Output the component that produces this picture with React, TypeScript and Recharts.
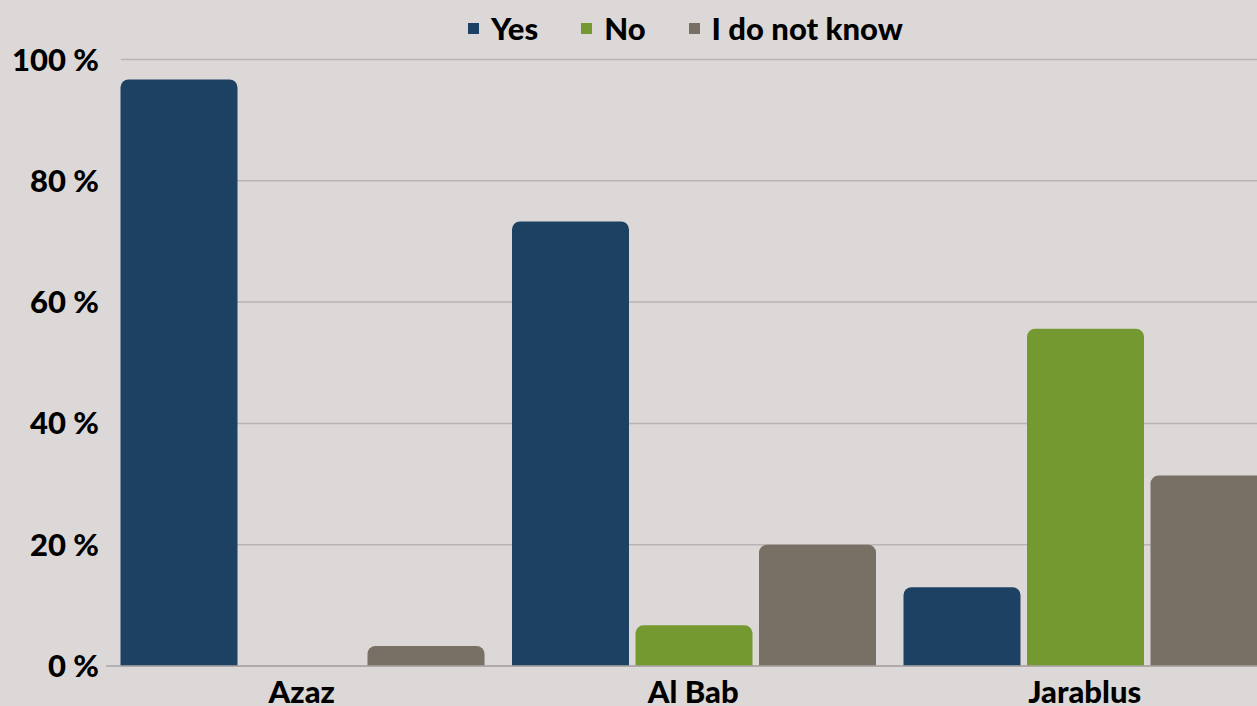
import React from 'react';
import { BarChart, Bar, XAxis, YAxis, CartesianGrid, Legend } from 'recharts';

const categories = ['Azaz', 'Al Bab', 'Jarablus'];
const yesValues = [96.7, 73.3, 13.0];
const noValues = [0, 6.7, 55.6];
const idkValues = [3.3, 20.0, 31.4];
const yTicks = [0, 20, 40, 60, 80, 100];

const seriesKeys = ['yes', 'no', 'idk'];
const seriesNames = ['Yes', 'No', 'I do not know'];
const seriesColors = ['#1C4162', '#759931', '#786F65'];

const data = categories.map((c, i) => ({
  name: c,
  yes: yesValues[i],
  no: noValues[i],
  idk: idkValues[i],
}));

const FONT = 'Lato, "Open Sans", sans-serif';
const WEIGHT = 900;
const BG = '#DCD8D7';
const GRID = '#B9B4B3';

const LegendContent = () => (
  <div style={{ display: 'flex', alignItems: 'center', height: 40, fontFamily: FONT, fontWeight: WEIGHT, fontSize: 31, color: '#000' }}>
    {seriesNames.map((n, i) => (
      <div key={n} style={{ display: 'flex', alignItems: 'center', marginRight: 43 }}>
        <div style={{ width: 11, height: 11, background: seriesColors[i], marginRight: 12 }} />
        <span style={{ lineHeight: '40px' }}>{n}</span>
      </div>
    ))}
  </div>
);

export default function App() {
  return (
    <div style={{ position: 'absolute', left: 0, top: 0, width: 1257, height: 706, overflow: 'hidden', background: BG }}>
      <BarChart
        width={1300}
        height={706}
        data={data}
        margin={{ top: 59.5, right: 19.5, bottom: 0, left: 0 }}
        barCategoryGap={14.5}
        barGap={6.5}
      >
        <CartesianGrid
          vertical={false}
          horizontal={(p: any) => (
            <line
              key={`h-${p.index}-${p.y1}`}
              x1={p.x1 + 15}
              y1={p.y1}
              x2={p.x2}
              y2={p.y2}
              stroke={GRID}
              strokeWidth={1.5}
            />
          )}
        />
        <XAxis
          dataKey="name"
          height={40}
          tickSize={0}
          tickMargin={15}
          tickLine={false}
          axisLine={{ stroke: '#A9A4A3', strokeWidth: 1.5 }}
          tick={{ fill: '#000', fontFamily: FONT, fontWeight: WEIGHT, fontSize: 31 }}
          interval={0}
        />
        <YAxis
          width={106}
          domain={[0, 100]}
          ticks={yTicks}
          tickSize={0}
          tickMargin={7}
          tickLine={false}
          axisLine={false}
          tickFormatter={(v: number) => `${v} %`}
          tick={{ fill: '#000', fontFamily: FONT, fontWeight: WEIGHT, fontSize: 31 }}
        />
        <Legend
          verticalAlign="middle"
          align="center"
          layout="horizontal"
          content={<LegendContent />}
          wrapperStyle={{ top: 8, left: 468, width: 'auto', height: 40 }}
        />
        {seriesKeys.map((k, i) => (
          <Bar
            key={k}
            dataKey={k}
            name={seriesNames[i]}
            fill={seriesColors[i]}
            radius={[8, 8, 0, 0]}
            isAnimationActive={false}
          />
        ))}
      </BarChart>
    </div>
  );
}
